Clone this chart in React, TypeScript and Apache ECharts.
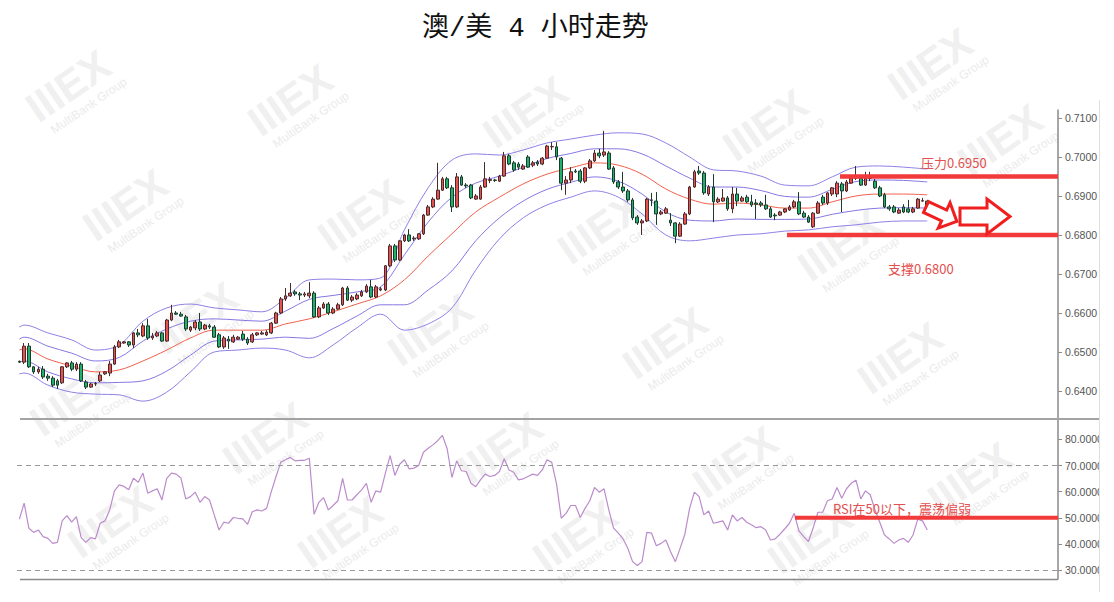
import React, { useEffect, useRef } from 'react';
import * as echarts from 'echarts';

// ---------- data ----------
const CAT_COUNT = 219; // candle slots on the time axis (last ones empty)

// [open, close, low, high]
const ohlc: number[][] = [
  [0.6476, 0.6474, 0.6472, 0.6478],
  [0.6474, 0.6515, 0.6469, 0.6523], [0.6515, 0.6462, 0.6459, 0.6523], [0.6462, 0.6449, 0.6444, 0.6464],
  [0.6449, 0.6456, 0.6444, 0.6462], [0.6456, 0.6436, 0.6431, 0.6464], [0.6438, 0.6433, 0.6426, 0.6444],
  [0.6433, 0.6415, 0.6410, 0.6438], [0.6426, 0.6415, 0.6405, 0.6431], [0.6421, 0.6462, 0.6418, 0.6464],
  [0.6462, 0.6472, 0.6459, 0.6474], [0.6472, 0.6456, 0.6451, 0.6477], [0.6456, 0.6469, 0.6451, 0.6474],
  [0.6469, 0.6426, 0.6423, 0.6474], [0.6423, 0.6410, 0.6405, 0.6428], [0.6410, 0.6418, 0.6408, 0.6421],
  [0.6418, 0.6419, 0.6413, 0.6423], [0.6426, 0.6441, 0.6423, 0.6449], [0.6444, 0.6449, 0.6441, 0.6451],
  [0.6446, 0.6469, 0.6438, 0.6477], [0.6469, 0.6513, 0.6467, 0.6518], [0.6513, 0.6526, 0.6510, 0.6531],
  [0.6523, 0.6526, 0.6521, 0.6528], [0.6526, 0.6518, 0.6513, 0.6528], [0.6518, 0.6549, 0.6510, 0.6551],
  [0.6549, 0.6544, 0.6538, 0.6559], [0.6541, 0.6567, 0.6538, 0.6574], [0.6567, 0.6536, 0.6531, 0.6585],
  [0.6536, 0.6541, 0.6531, 0.6549], [0.6541, 0.6549, 0.6538, 0.6554], [0.6549, 0.6528, 0.6526, 0.6551],
  [0.6528, 0.6582, 0.6526, 0.6585], [0.6582, 0.6600, 0.6579, 0.6621], [0.6600, 0.6597, 0.6595, 0.6605],
  [0.6597, 0.6592, 0.6590, 0.6603], [0.6590, 0.6559, 0.6554, 0.6595], [0.6556, 0.6564, 0.6551, 0.6567],
  [0.6562, 0.6577, 0.6556, 0.6582], [0.6577, 0.6559, 0.6554, 0.6600], [0.6559, 0.6569, 0.6556, 0.6572],
  [0.6567, 0.6564, 0.6559, 0.6572], [0.6564, 0.6538, 0.6536, 0.6569], [0.6544, 0.6513, 0.6510, 0.6549],
  [0.6513, 0.6536, 0.6508, 0.6541], [0.6533, 0.6528, 0.6508, 0.6541], [0.6526, 0.6538, 0.6523, 0.6544],
  [0.6533, 0.6538, 0.6531, 0.6541], [0.6546, 0.6533, 0.6528, 0.6554], [0.6533, 0.6523, 0.6518, 0.6538],
  [0.6526, 0.6544, 0.6523, 0.6549], [0.6544, 0.6549, 0.6541, 0.6551], [0.6546, 0.6549, 0.6544, 0.6554],
  [0.6544, 0.6551, 0.6541, 0.6556], [0.6549, 0.6574, 0.6546, 0.6577], [0.6574, 0.6600, 0.6572, 0.6603],
  [0.6600, 0.6636, 0.6597, 0.6641], [0.6636, 0.6644, 0.6631, 0.6664], [0.6644, 0.6651, 0.6641, 0.6677],
  [0.6654, 0.6649, 0.6644, 0.6659], [0.6649, 0.6646, 0.6633, 0.6654], [0.6646, 0.6649, 0.6641, 0.6654],
  [0.6644, 0.6651, 0.6638, 0.6679], [0.6651, 0.6590, 0.6587, 0.6656], [0.6590, 0.6613, 0.6587, 0.6618],
  [0.6613, 0.6623, 0.6610, 0.6628], [0.6623, 0.6600, 0.6595, 0.6628], [0.6600, 0.6610, 0.6597, 0.6615],
  [0.6610, 0.6621, 0.6608, 0.6626], [0.6621, 0.6664, 0.6618, 0.6667], [0.6664, 0.6633, 0.6631, 0.6669],
  [0.6633, 0.6641, 0.6628, 0.6646], [0.6636, 0.6646, 0.6633, 0.6651], [0.6644, 0.6654, 0.6641, 0.6659],
  [0.6654, 0.6669, 0.6651, 0.6674], [0.6667, 0.6641, 0.6638, 0.6685], [0.6641, 0.6667, 0.6638, 0.6672],
  [0.6659, 0.6662, 0.6656, 0.6667], [0.6659, 0.6721, 0.6656, 0.6723], [0.6721, 0.6772, 0.6718, 0.6777],
  [0.6772, 0.6736, 0.6731, 0.6777], [0.6736, 0.6785, 0.6733, 0.6787], [0.6785, 0.6800, 0.6782, 0.6803],
  [0.6800, 0.6785, 0.6782, 0.6815], [0.6790, 0.6792, 0.6785, 0.6797], [0.6790, 0.6803, 0.6787, 0.6805],
  [0.6803, 0.6851, 0.6800, 0.6854], [0.6851, 0.6872, 0.6849, 0.6877], [0.6872, 0.6892, 0.6869, 0.6897],
  [0.6892, 0.6915, 0.6890, 0.6985], [0.6915, 0.6944, 0.6913, 0.6949], [0.6944, 0.6921, 0.6918, 0.6949],
  [0.6921, 0.6872, 0.6859, 0.6928], [0.6872, 0.6949, 0.6869, 0.6959], [0.6949, 0.6928, 0.6926, 0.6954],
  [0.6928, 0.6926, 0.6921, 0.6933], [0.6928, 0.6895, 0.6892, 0.6931], [0.6892, 0.6900, 0.6890, 0.6905],
  [0.6892, 0.6923, 0.6890, 0.6928], [0.6923, 0.6944, 0.6921, 0.6987], [0.6940, 0.6942, 0.6933, 0.6949],
  [0.6941, 0.6940, 0.6936, 0.6944], [0.6938, 0.6951, 0.6936, 0.6954], [0.6951, 0.7003, 0.6949, 0.7013],
  [0.7003, 0.6982, 0.6979, 0.7008], [0.6985, 0.6967, 0.6962, 0.6990], [0.6982, 0.6974, 0.6967, 0.6987],
  [0.6969, 0.6977, 0.6967, 0.6982], [0.7000, 0.6974, 0.6972, 0.7005], [0.6979, 0.6985, 0.6974, 0.6990],
  [0.6987, 0.6982, 0.6977, 0.6992], [0.6982, 0.6997, 0.6979, 0.7000], [0.6997, 0.7028, 0.6995, 0.7031],
  [0.7026, 0.7027, 0.7018, 0.7038], [0.7026, 0.7000, 0.6992, 0.7038], [0.6997, 0.6933, 0.6915, 0.7000],
  [0.6933, 0.6941, 0.6903, 0.6951], [0.6941, 0.6962, 0.6933, 0.6974], [0.6964, 0.6962, 0.6959, 0.6969],
  [0.6964, 0.6938, 0.6933, 0.6969], [0.6938, 0.6972, 0.6933, 0.6974], [0.6972, 0.6990, 0.6969, 0.6995],
  [0.6990, 0.7010, 0.6987, 0.7018], [0.7010, 0.7003, 0.6997, 0.7021], [0.7005, 0.7013, 0.7000, 0.7067],
  [0.7010, 0.6969, 0.6967, 0.7015], [0.6972, 0.6936, 0.6931, 0.6977], [0.6936, 0.6923, 0.6918, 0.6941],
  [0.6923, 0.6913, 0.6908, 0.6962], [0.6913, 0.6890, 0.6885, 0.6918], [0.6890, 0.6844, 0.6838, 0.6895],
  [0.6846, 0.6831, 0.6826, 0.6851], [0.6831, 0.6836, 0.6800, 0.6841], [0.6836, 0.6892, 0.6833, 0.6895],
  [0.6890, 0.6889, 0.6874, 0.6908], [0.6887, 0.6854, 0.6826, 0.6910], [0.6854, 0.6859, 0.6851, 0.6864],
  [0.6856, 0.6867, 0.6854, 0.6872], [0.6838, 0.6831, 0.6823, 0.6856], [0.6831, 0.6797, 0.6779, 0.6833],
  [0.6797, 0.6828, 0.6795, 0.6833], [0.6828, 0.6854, 0.6826, 0.6859], [0.6854, 0.6923, 0.6851, 0.6926],
  [0.6923, 0.6962, 0.6921, 0.6967], [0.6964, 0.6959, 0.6954, 0.6977], [0.6959, 0.6908, 0.6903, 0.6964],
  [0.6905, 0.6923, 0.6900, 0.6928], [0.6923, 0.6885, 0.6833, 0.6956], [0.6885, 0.6892, 0.6882, 0.6897],
  [0.6887, 0.6895, 0.6885, 0.6918], [0.6895, 0.6867, 0.6862, 0.6900], [0.6867, 0.6905, 0.6856, 0.6923],
  [0.6905, 0.6887, 0.6874, 0.6921], [0.6887, 0.6895, 0.6885, 0.6900], [0.6897, 0.6885, 0.6882, 0.6903],
  [0.6885, 0.6877, 0.6872, 0.6903], [0.6882, 0.6879, 0.6841, 0.6892], [0.6882, 0.6877, 0.6872, 0.6887],
  [0.6877, 0.6867, 0.6864, 0.6903], [0.6867, 0.6846, 0.6844, 0.6872], [0.6851, 0.6849, 0.6838, 0.6856],
  [0.6851, 0.6859, 0.6849, 0.6862], [0.6859, 0.6867, 0.6856, 0.6869], [0.6864, 0.6872, 0.6862, 0.6877],
  [0.6872, 0.6885, 0.6869, 0.6890], [0.6885, 0.6854, 0.6851, 0.6910], [0.6856, 0.6846, 0.6844, 0.6862],
  [0.6846, 0.6833, 0.6831, 0.6851], [0.6821, 0.6856, 0.6818, 0.6859], [0.6856, 0.6882, 0.6854, 0.6887],
  [0.6897, 0.6882, 0.6877, 0.6903], [0.6882, 0.6908, 0.6877, 0.6910], [0.6905, 0.6921, 0.6900, 0.6923],
  [0.6905, 0.6933, 0.6897, 0.6938], [0.6931, 0.6913, 0.6859, 0.6936], [0.6913, 0.6936, 0.6910, 0.6941],
  [0.6933, 0.6946, 0.6931, 0.6949], [0.6946, 0.6947, 0.6941, 0.6977], [0.6946, 0.6928, 0.6926, 0.6951],
  [0.6928, 0.6946, 0.6926, 0.6962], [0.6946, 0.6945, 0.6938, 0.6962], [0.6938, 0.6921, 0.6918, 0.6944],
  [0.6921, 0.6900, 0.6897, 0.6926], [0.6903, 0.6872, 0.6869, 0.6908], [0.6872, 0.6867, 0.6862, 0.6877],
  [0.6872, 0.6859, 0.6856, 0.6877], [0.6856, 0.6864, 0.6854, 0.6869], [0.6872, 0.6859, 0.6856, 0.6879],
  [0.6867, 0.6859, 0.6856, 0.6890], [0.6859, 0.6867, 0.6856, 0.6872], [0.6869, 0.6892, 0.6867, 0.6895],
  [0.6887, 0.6888, 0.6885, 0.6895], [0.6887, 0.6872, 0.6869, 0.6890],
];

// Bollinger-style bands, read at these candle slots
const bandIdx = [0, 1, 6, 11, 16, 21, 26, 31, 36, 41, 46, 51, 56, 61, 66, 71, 76, 81, 86, 91, 96, 101, 106, 111, 116, 121, 126, 131, 136, 141, 146, 151, 156, 161, 166, 171, 176, 181, 186, 191];
const bbUpper2 = [0.6564, 0.6569, 0.6549, 0.6531, 0.6505, 0.6518, 0.6579, 0.6613, 0.6623, 0.6613, 0.6608, 0.6603, 0.6638, 0.6685, 0.6687, 0.6685, 0.6690, 0.6813, 0.6921, 0.6992, 0.7008, 0.7005, 0.7018, 0.7036, 0.7046, 0.7056, 0.7062, 0.7059, 0.7036, 0.7000, 0.6967, 0.6964, 0.6951, 0.6928, 0.6926, 0.6949, 0.6974, 0.6977, 0.6974, 0.6969];
const bbUpper1 = [0.6533, 0.6538, 0.6515, 0.6497, 0.6477, 0.6486, 0.6528, 0.6559, 0.6579, 0.6585, 0.6582, 0.6579, 0.6605, 0.6635, 0.6645, 0.6654, 0.6667, 0.6749, 0.6833, 0.6897, 0.6933, 0.6951, 0.6974, 0.6996, 0.7009, 0.7021, 0.7021, 0.7008, 0.6977, 0.6946, 0.6923, 0.6923, 0.6914, 0.6899, 0.6897, 0.6917, 0.6937, 0.6941, 0.6940, 0.6936];
const bbMid = [0.6505, 0.6508, 0.6482, 0.6464, 0.6449, 0.6454, 0.6477, 0.6505, 0.6536, 0.6556, 0.6556, 0.6556, 0.6572, 0.6585, 0.6603, 0.6623, 0.6644, 0.6685, 0.6746, 0.6803, 0.6859, 0.6897, 0.6931, 0.6956, 0.6972, 0.6985, 0.6979, 0.6956, 0.6918, 0.6892, 0.6879, 0.6882, 0.6877, 0.6869, 0.6869, 0.6885, 0.6900, 0.6905, 0.6905, 0.6903];
const bbLower1 = [0.6474, 0.6477, 0.6449, 0.6431, 0.6421, 0.6422, 0.6426, 0.6451, 0.6492, 0.6528, 0.6531, 0.6533, 0.6538, 0.6535, 0.6560, 0.6592, 0.6621, 0.6621, 0.6659, 0.6708, 0.6785, 0.6844, 0.6887, 0.6917, 0.6935, 0.6949, 0.6938, 0.6905, 0.6859, 0.6838, 0.6836, 0.6841, 0.6840, 0.6840, 0.6841, 0.6853, 0.6863, 0.6869, 0.6870, 0.6869];
const bbLower2 = [0.6444, 0.6446, 0.6415, 0.6397, 0.6392, 0.6390, 0.6374, 0.6397, 0.6449, 0.6500, 0.6505, 0.6510, 0.6505, 0.6485, 0.6518, 0.6562, 0.6597, 0.6556, 0.6572, 0.6613, 0.6710, 0.6790, 0.6844, 0.6877, 0.6897, 0.6913, 0.6897, 0.6854, 0.6800, 0.6785, 0.6792, 0.6800, 0.6803, 0.6810, 0.6813, 0.6821, 0.6826, 0.6833, 0.6836, 0.6836];

// RSI, one value per candle slot
const rsi = [
  49.5, 55.6, 46.0, 44.4, 45.3, 42.8, 42.1, 40.2, 40.6, 48.8, 50.8, 48.3, 50.4, 42.4, 40.6, 42.4, 41.9, 47.9, 48.8, 53.0,
  60.3, 62.6, 62.0, 60.7, 65.1, 63.6, 67.1, 59.4, 60.3, 61.1, 56.8, 65.1, 67.1, 66.7, 65.1, 57.2, 58.1, 59.8, 55.9, 58.1,
  56.8, 51.1, 45.3, 48.3, 47.9, 50.1, 49.8, 49.6, 47.5, 52.3, 53.0, 52.6, 53.6, 60.0, 65.8, 71.3, 72.2, 73.1, 71.8, 72.0,
  72.0, 72.8, 51.3, 55.9, 57.7, 53.0, 54.7, 56.5, 65.1, 56.8, 56.8, 58.8, 60.7, 63.2, 55.9, 60.3, 59.8, 67.1, 73.8, 66.2,
  70.5, 72.2, 68.7, 69.0, 70.0, 75.1, 76.6, 77.9, 79.5, 81.5, 76.4, 65.4, 71.8, 68.0, 67.7, 63.2, 61.9, 64.5, 66.7, 65.8,
  66.2, 67.7, 72.6, 68.3, 67.4, 64.5, 64.9, 65.8, 66.7, 66.2, 68.3, 72.2, 71.2, 63.0, 49.8, 51.7, 54.7, 54.7, 50.1, 53.6,
  56.5, 61.6, 59.8, 61.1, 53.0, 46.0, 44.1, 41.9, 38.3, 33.2, 31.7, 33.2, 44.4, 44.1, 39.3, 40.2, 41.5, 37.0, 33.2, 38.3,
  43.7, 53.6, 59.8, 58.1, 51.1, 52.6, 47.9, 48.3, 48.8, 45.3, 51.1, 48.8, 50.1, 48.3, 47.3, 46.2, 46.6, 45.3, 41.5, 41.9,
  43.7, 45.7, 47.9, 51.7, 45.0, 42.8, 40.9, 46.2, 52.1, 52.1, 56.5, 57.2, 61.6, 57.5, 61.1, 63.2, 64.4, 57.2, 60.3, 58.8,
  53.0, 48.3, 43.4, 41.9, 40.2, 41.5, 42.1, 40.6, 43.4, 49.5, 48.8, 45.3,
];

const rsiGuides = [70, 30];
const resistance = 0.695;
const support = 0.68;
const rsiLevel = 50;
const titleText = '澳/美 4 小时走势';
const noteResistance = '压力0.6950';
const noteSupport = '支撑0.6800';
const noteRsi = 'RSI在50以下，震荡偏弱';

// watermark centres (decoration)
const watermarks: number[][] = [
  [930, 64], [68, 86], [290, 100], [525, 112], [765, 125], [1000, 140],
  [125, 205], [360, 215], [600, 228], [840, 245], [195, 318], [430, 330],
  [665, 343], [900, 358], [72, 400], [265, 438], [500, 448], [735, 462],
  [970, 478], [110, 522], [340, 532], [575, 536], [810, 538],
];

export default function App() {
  const ref = useRef<HTMLDivElement>(null);

  useEffect(() => {
    if (!ref.current) return;
    const chart = echarts.init(ref.current, undefined, { renderer: 'svg' });
    const cats = Array.from({ length: CAT_COUNT }, (_, i) => String(i));
    const bandSeries = (arr: number[], color: string, name: string) => ({
      name,
      type: 'line',
      xAxisIndex: 0,
      yAxisIndex: 0,
      data: bandIdx.map((ix, i) => [ix, arr[i]]),
      showSymbol: false,
      smooth: 0.35,
      lineStyle: { color, width: 1 },
      z: 2,
      silent: true,
    });

    const axisLabelFont = { color: '#555', fontSize: 10.5, fontFamily: 'Liberation Sans, Arial, sans-serif' };

    chart.setOption({
      animation: false,
      backgroundColor: '#ffffff',
      title: {
        text: titleText,
        left: 417,
        top: 10,
        textStyle: { fontSize: 27, fontWeight: 'normal', fontFamily: "'Liberation Mono', 'Noto Sans CJK SC', serif", color: '#111' },
      },
      grid: [
        { left: 17, top: 110, width: 1041, height: 309 },
        { left: 17, top: 419, width: 1041, height: 160 },
      ],
      xAxis: [
        { type: 'category', gridIndex: 0, data: cats, boundaryGap: true, show: false },
        { type: 'category', gridIndex: 1, data: cats, boundaryGap: true, show: false },
      ],
      yAxis: [
        {
          type: 'value', gridIndex: 0, position: 'right', scale: true,
          min: 0.63282, max: 0.71205, splitNumber: 8,
          axisLine: { show: true, lineStyle: { color: '#8a8a8a', width: 1.5 } },
          axisTick: { show: true, length: 4, lineStyle: { color: '#8a8a8a' } },
          splitLine: { show: false },
          axisLabel: { ...axisLabelFont, margin: 7, showMinLabel: false, showMaxLabel: false, formatter: (v: number) => v.toFixed(4) },
        },
        {
          type: 'value', gridIndex: 1, position: 'right',
          min: 26.56, max: 87.8, splitNumber: 6,
          axisLine: { show: true, lineStyle: { color: '#8a8a8a', width: 1.5 } },
          axisTick: { show: true, length: 4, lineStyle: { color: '#8a8a8a' } },
          splitLine: { show: false },
          axisLabel: { ...axisLabelFont, margin: 7, showMinLabel: false, showMaxLabel: false, formatter: (v: number) => v.toFixed(4) },
        },
      ],
      series: [
        bandSeries(bbUpper2, '#8d80e6', 'UB2'),
        bandSeries(bbUpper1, '#8577e2', 'UB1'),
        bandSeries(bbMid, '#f0604c', 'MID'),
        bandSeries(bbLower1, '#8577e2', 'LB1'),
        bandSeries(bbLower2, '#8d80e6', 'LB2'),
        {
          name: 'AUDUSD',
          type: 'candlestick',
          xAxisIndex: 0,
          yAxisIndex: 0,
          data: ohlc,
          barWidth: 3.2,
          z: 4,
          itemStyle: {
            color: '#e6534f',
            color0: '#1fb06c',
            borderColor: '#4a2a2a',
            borderColor0: '#1d3b2c',
            borderWidth: 1,
          },
        },
        {
          name: 'RSI',
          type: 'line',
          xAxisIndex: 1,
          yAxisIndex: 1,
          data: rsi,
          showSymbol: false,
          lineStyle: { color: '#bb8ccb', width: 1.2 },
          markLine: {
            silent: true,
            symbol: ['none', 'none'],
            label: { show: false },
            lineStyle: { color: '#9a9a9a', type: [5, 4], width: 1 },
            data: rsiGuides.map((v) => ({ yAxis: v })),
          },
        },
      ],
    });

    const yRes = chart.convertToPixel({ yAxisIndex: 0 }, resistance) as number;
    const ySup = chart.convertToPixel({ yAxisIndex: 0 }, support) as number;
    const yRsi = chart.convertToPixel({ yAxisIndex: 1 }, rsiLevel) as number;

    const rot = (pts: number[][], ox: number, oy: number, deg: number) => {
      const a = (deg * Math.PI) / 180;
      const c = Math.cos(a);
      const s = Math.sin(a);
      return pts.map(([x, y]) => [ox + x * c - y * s, oy + x * s + y * c]);
    };
    const arrowShape = [[0, -6], [20, -6], [20, -14], [34, 0], [20, 14], [20, 6], [0, 6]];
    const bigArrow = [[0, -8.5], [27, -8.5], [27, -17.5], [50, 0], [27, 17.5], [27, 8.5], [0, 8.5]].map(([x, y]) => [960 + x, 216.5 + y]);

    const red = '#f23a3a';
    const noteColor = '#e2504f';
    const noteFont = "'Noto Sans CJK SC', 'Microsoft YaHei', sans-serif";

    const wm = watermarks.map(([x, y]) => ({
      type: 'group',
      x,
      y,
      rotation: 0.6,
      silent: true,
      z: 0,
      children: [
        { type: 'text', x: 0, y: 0, z: 0, style: { text: 'IIIEX', fontSize: 42, fontWeight: 'bold', fontFamily: 'Liberation Sans, Arial', fill: '#f0f0f0', align: 'center', verticalAlign: 'middle' } },
        { type: 'text', x: 6, y: 28, z: 0, style: { text: 'MultiBank Group', fontSize: 12, fontFamily: 'Liberation Sans, Arial', fill: '#ebebeb', align: 'center', verticalAlign: 'middle' } },
      ],
    }));

    chart.setOption({
      graphic: [
        ...wm,
        { type: 'line', silent: true, z: 5, shape: { x1: 20, y1: 419, x2: 1100, y2: 419 }, style: { stroke: '#a3a3a3', lineWidth: 2 } },
        { type: 'line', silent: true, z: 5, shape: { x1: 20, y1: 579.5, x2: 1058, y2: 579.5 }, style: { stroke: '#8a8a8a', lineWidth: 1.5 } },
        { type: 'rect', silent: true, z: 20, shape: { x: 1100, y: 424, width: 20, height: 175 }, style: { fill: '#ffffff' } },
        { type: 'line', silent: true, z: 21, shape: { x1: 1099.5, y1: 100, x2: 1099.5, y2: 592 }, style: { stroke: '#dedede', lineWidth: 1 } },
        { type: 'line', silent: true, z: 10, shape: { x1: 840, y1: yRes, x2: 1058, y2: yRes }, style: { stroke: red, lineWidth: 4.5 } },
        { type: 'line', silent: true, z: 10, shape: { x1: 787, y1: ySup, x2: 1058, y2: ySup }, style: { stroke: red, lineWidth: 4.5 } },
        { type: 'line', silent: true, z: 10, shape: { x1: 795, y1: yRsi, x2: 1058, y2: yRsi }, style: { stroke: red, lineWidth: 4 } },
        { type: 'polygon', silent: true, z: 11, shape: { points: rot(arrowShape, 926, 207, 25) }, style: { fill: '#ffffff', stroke: '#f01e1e', lineWidth: 3, lineJoin: 'miter' } },
        { type: 'polygon', silent: true, z: 11, shape: { points: bigArrow }, style: { fill: '#ffffff', stroke: '#f01e1e', lineWidth: 3, lineJoin: 'miter' } },
        { type: 'text', silent: true, z: 12, x: 921, y: 162, style: { text: noteResistance, fontSize: 13, fontFamily: noteFont, fill: noteColor, verticalAlign: 'middle' } },
        { type: 'text', silent: true, z: 12, x: 888, y: 268, style: { text: noteSupport, fontSize: 13, fontFamily: noteFont, fill: noteColor, verticalAlign: 'middle' } },
        { type: 'text', silent: true, z: 12, x: 833, y: 508, style: { text: noteRsi, fontSize: 13, fontFamily: noteFont, fill: noteColor, verticalAlign: 'middle' } },
      ],
    });

    return () => {
      chart.dispose();
    };
  }, []);

  return (
    <div
      ref={ref}
      style={{ position: 'absolute', left: 0, top: 0, width: 1114, height: 602, background: '#ffffff' }}
    />
  );
}
